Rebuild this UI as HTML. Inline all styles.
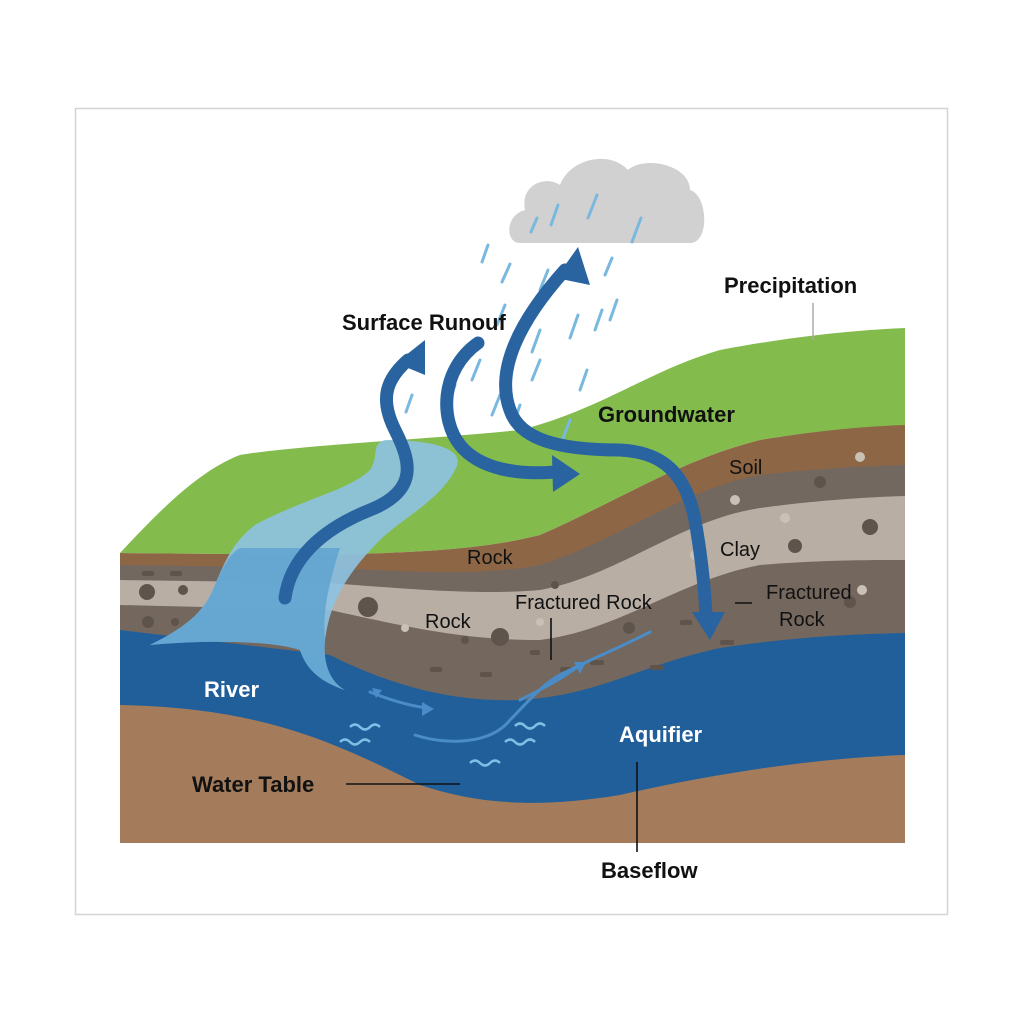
<!DOCTYPE html>
<html><head><meta charset="utf-8"><style>
html,body{margin:0;padding:0;background:#fff}
svg{display:block}
text{font-family:"Liberation Sans",sans-serif;fill:#111}
.b{font-weight:bold;font-size:22px}
.n{font-size:20px}
</style></head><body>
<svg width="1024" height="1024" viewBox="0 0 1024 1024" xmlns="http://www.w3.org/2000/svg">
<rect x="75.5" y="108.5" width="872" height="806" fill="#fff" stroke="#d4d4d4" stroke-width="1.5"/>
<!-- green -->
<path d="M120 553 C160 510 200 470 240 455 C300 445 420 440 520 430 C600 410 650 370 720 350 C800 335 860 330 905 328 L905 426 C870 427 820 430 760 440 C680 460 620 500 540 535 C480 550 420 552 330 555 Z" fill="#83bb4d"/>
<!-- soil -->
<path d="M120 553 L330 555 C420 552 480 550 540 535 C620 500 680 460 760 440 C820 430 870 426 905 425 L905 700 L120 700 Z" fill="#8d6646"/>
<!-- dark gray -->
<path d="M120 565 L330 568 C420 572 480 576 540 565 C620 540 680 490 760 475 C820 468 870 466 905 465 L905 700 L120 700 Z" fill="#736860"/>
<!-- light gray -->
<path d="M120 580 L330 583 C420 590 480 595 540 590 C620 575 680 520 760 508 C820 500 870 497 905 496 L905 700 L120 700 Z" fill="#b8aea4"/>
<!-- dark gray lower -->
<path d="M120 605 L330 610 C420 630 470 640 540 640 C620 630 680 580 760 565 C820 560 870 560 905 560 L905 720 L120 720 Z" fill="#74675e"/>
<!-- aquifer -->
<path d="M120 630 L330 655 C400 690 460 702 520 700 C600 695 640 665 720 648 C800 636 860 634 905 633 L905 843 L120 843 Z" fill="#215f9a"/>
<!-- base brown -->
<path d="M120 705 C260 708 330 740 420 785 C480 805 540 808 620 795 C720 772 820 758 905 755 L905 843 L120 843 Z" fill="#a47c5b"/>
<!-- pebbles -->
<g fill="#5f544c">
<circle cx="147" cy="592" r="8"/><circle cx="183" cy="590" r="5"/><circle cx="148" cy="622" r="6"/><circle cx="175" cy="622" r="4"/>
<circle cx="368" cy="607" r="10"/><circle cx="500" cy="637" r="9"/><circle cx="795" cy="546" r="7"/><circle cx="870" cy="527" r="8"/><circle cx="820" cy="482" r="6"/><circle cx="850" cy="602" r="6"/><circle cx="629" cy="628" r="6"/><circle cx="465" cy="640" r="4"/><circle cx="555" cy="585" r="4"/>
<rect x="142" y="571" width="12" height="5" rx="2"/><rect x="170" y="571" width="12" height="5" rx="2"/>
<rect x="530" y="650" width="10" height="5" rx="2"/><rect x="590" y="660" width="14" height="5" rx="2"/>
<rect x="650" y="665" width="14" height="5" rx="2"/><rect x="720" y="640" width="14" height="5" rx="2"/><rect x="680" y="620" width="12" height="5" rx="2"/>
<rect x="430" y="667" width="12" height="5" rx="2"/><rect x="480" y="672" width="12" height="5" rx="2"/><rect x="560" y="667" width="12" height="5" rx="2"/>
</g>
<g fill="#c9c0b6"><circle cx="735" cy="500" r="5"/><circle cx="785" cy="518" r="5"/><circle cx="405" cy="628" r="4"/><circle cx="540" cy="622" r="4"/><circle cx="695" cy="555" r="5"/><circle cx="860" cy="457" r="5"/><circle cx="862" cy="590" r="5"/></g>
<!-- river -->
<path d="M385 440 C420 440 470 445 455 470 C440 500 400 520 380 540 C350 570 330 600 325 640 C322 670 335 685 345 690 C315 680 305 665 300 650 C270 640 200 640 150 645 C190 625 205 610 215 585 C225 560 235 540 255 525 C300 500 350 490 370 470 C380 455 370 445 385 440 Z" fill="#8ec3e3" opacity="0.9"/>
<path d="M215 585 C225 560 235 550 240 548 L340 548 C330 580 322 610 325 640 C322 670 335 685 345 690 C315 680 305 665 300 650 C270 640 200 640 150 645 C190 625 205 610 215 585 Z" fill="#5fa3d0" opacity="0.85"/>
<!-- cloud -->
<path d="M520 243 C505 243 505 215 525 210 C520 185 545 175 560 185 C570 158 610 150 628 170 C645 155 690 165 690 190 C708 195 710 243 690 243 Z" fill="#d1d1d1"/>
<!-- rain -->
<g stroke="#79b8df" stroke-width="3" stroke-linecap="round">
<line x1="537" y1="218" x2="531" y2="232"/><line x1="558" y1="205" x2="551" y2="225"/><line x1="597" y1="195" x2="588" y2="218"/><line x1="641" y1="218" x2="632" y2="242"/>
<line x1="488" y1="245" x2="482" y2="262"/><line x1="510" y1="264" x2="502" y2="282"/><line x1="548" y1="270" x2="540" y2="290"/><line x1="580" y1="262" x2="573" y2="280"/><line x1="612" y1="258" x2="605" y2="275"/>
<line x1="505" y1="305" x2="497" y2="325"/><line x1="540" y1="330" x2="532" y2="352"/><line x1="578" y1="315" x2="570" y2="338"/><line x1="602" y1="310" x2="595" y2="330"/><line x1="617" y1="300" x2="610" y2="320"/>
<line x1="480" y1="360" x2="472" y2="380"/><line x1="500" y1="395" x2="492" y2="415"/><line x1="540" y1="360" x2="532" y2="380"/><line x1="587" y1="370" x2="580" y2="390"/><line x1="455" y1="385" x2="448" y2="405"/>
<line x1="412" y1="395" x2="406" y2="412"/><line x1="570" y1="420" x2="563" y2="438"/><line x1="520" y1="405" x2="513" y2="425"/>
</g>
<!-- arrows -->
<g fill="none" stroke="#2a64a0" stroke-width="13" stroke-linecap="round">
<path d="M285 598 C290 560 320 530 370 510 C420 490 410 460 395 430 C380 400 385 380 408 360"/>
<path d="M478 343 C440 370 440 420 460 445 C480 470 520 475 555 472"/>
<path d="M565 270 C520 320 495 370 510 410 C520 440 560 450 620 450 C660 452 685 470 695 520 C702 560 705 595 706 615"/>
</g>
<g fill="#2a64a0">
<polygon points="425,340 425,375 396,363"/>
<polygon points="580,474 552,455 553,492"/>
<polygon points="578,247 590,285 556,278"/>
<polygon points="710,640 692,612 725,612"/>
</g>
<!-- thin flow arrows -->
<g fill="none" stroke="#4a8cc8" stroke-width="3" stroke-linecap="round">
<path d="M370 692 C390 700 410 706 428 708"/>
<path d="M415 735 C445 745 490 745 510 720 C530 700 545 680 570 670 C600 655 615 650 650 632"/>
<path d="M520 700 C540 690 560 680 580 665"/>
</g>
<g fill="#4a8cc8"><polygon points="434,709 422,702 422,716"/><polygon points="586,662 574,662 580,674"/><polygon points="372,688 382,690 376,698"/></g>
<!-- waves -->
<g fill="none" stroke="#7cc0e6" stroke-width="2.5">
<path d="M350 727 q5 -5 10 0 t10 0 t10 0"/><path d="M340 742 q5 -5 10 0 t10 0 t10 0"/>
<path d="M515 726 q5 -5 10 0 t10 0 t10 0"/><path d="M505 742 q5 -5 10 0 t10 0 t10 0"/>
<path d="M470 763 q5 -5 10 0 t10 0 t10 0"/>
</g>
<!-- leader lines -->
<g stroke="#111" stroke-width="1.6">
<line x1="346" y1="784" x2="460" y2="784"/>
<line x1="551" y1="618" x2="551" y2="660"/>
<line x1="637" y1="762" x2="637" y2="852"/>
<line x1="735" y1="603" x2="752" y2="603"/>
</g>
<line x1="813" y1="303" x2="813" y2="340" stroke="#aaa" stroke-width="1.5"/>
<!-- labels -->
<text class="b" x="342" y="330">Surface Runouf</text>
<text class="b" x="724" y="293">Precipitation</text>
<text class="b" x="598" y="422">Groundwater</text>
<text class="n" x="729" y="474">Soil</text>
<text class="n" x="720" y="556">Clay</text>
<text class="n" x="467" y="564">Rock</text>
<text class="n" x="425" y="628">Rock</text>
<text class="n" x="515" y="609">Fractured Rock</text>
<text class="n" x="766" y="599">Fractured</text>
<text class="n" x="779" y="626">Rock</text>
<text class="b" x="204" y="697" style="fill:#fff">River</text>
<text class="b" x="619" y="742" style="fill:#fff">Aquifier</text>
<text class="b" x="192" y="792">Water Table</text>
<text class="b" x="601" y="878">Baseflow</text>
</svg>
</body></html>
